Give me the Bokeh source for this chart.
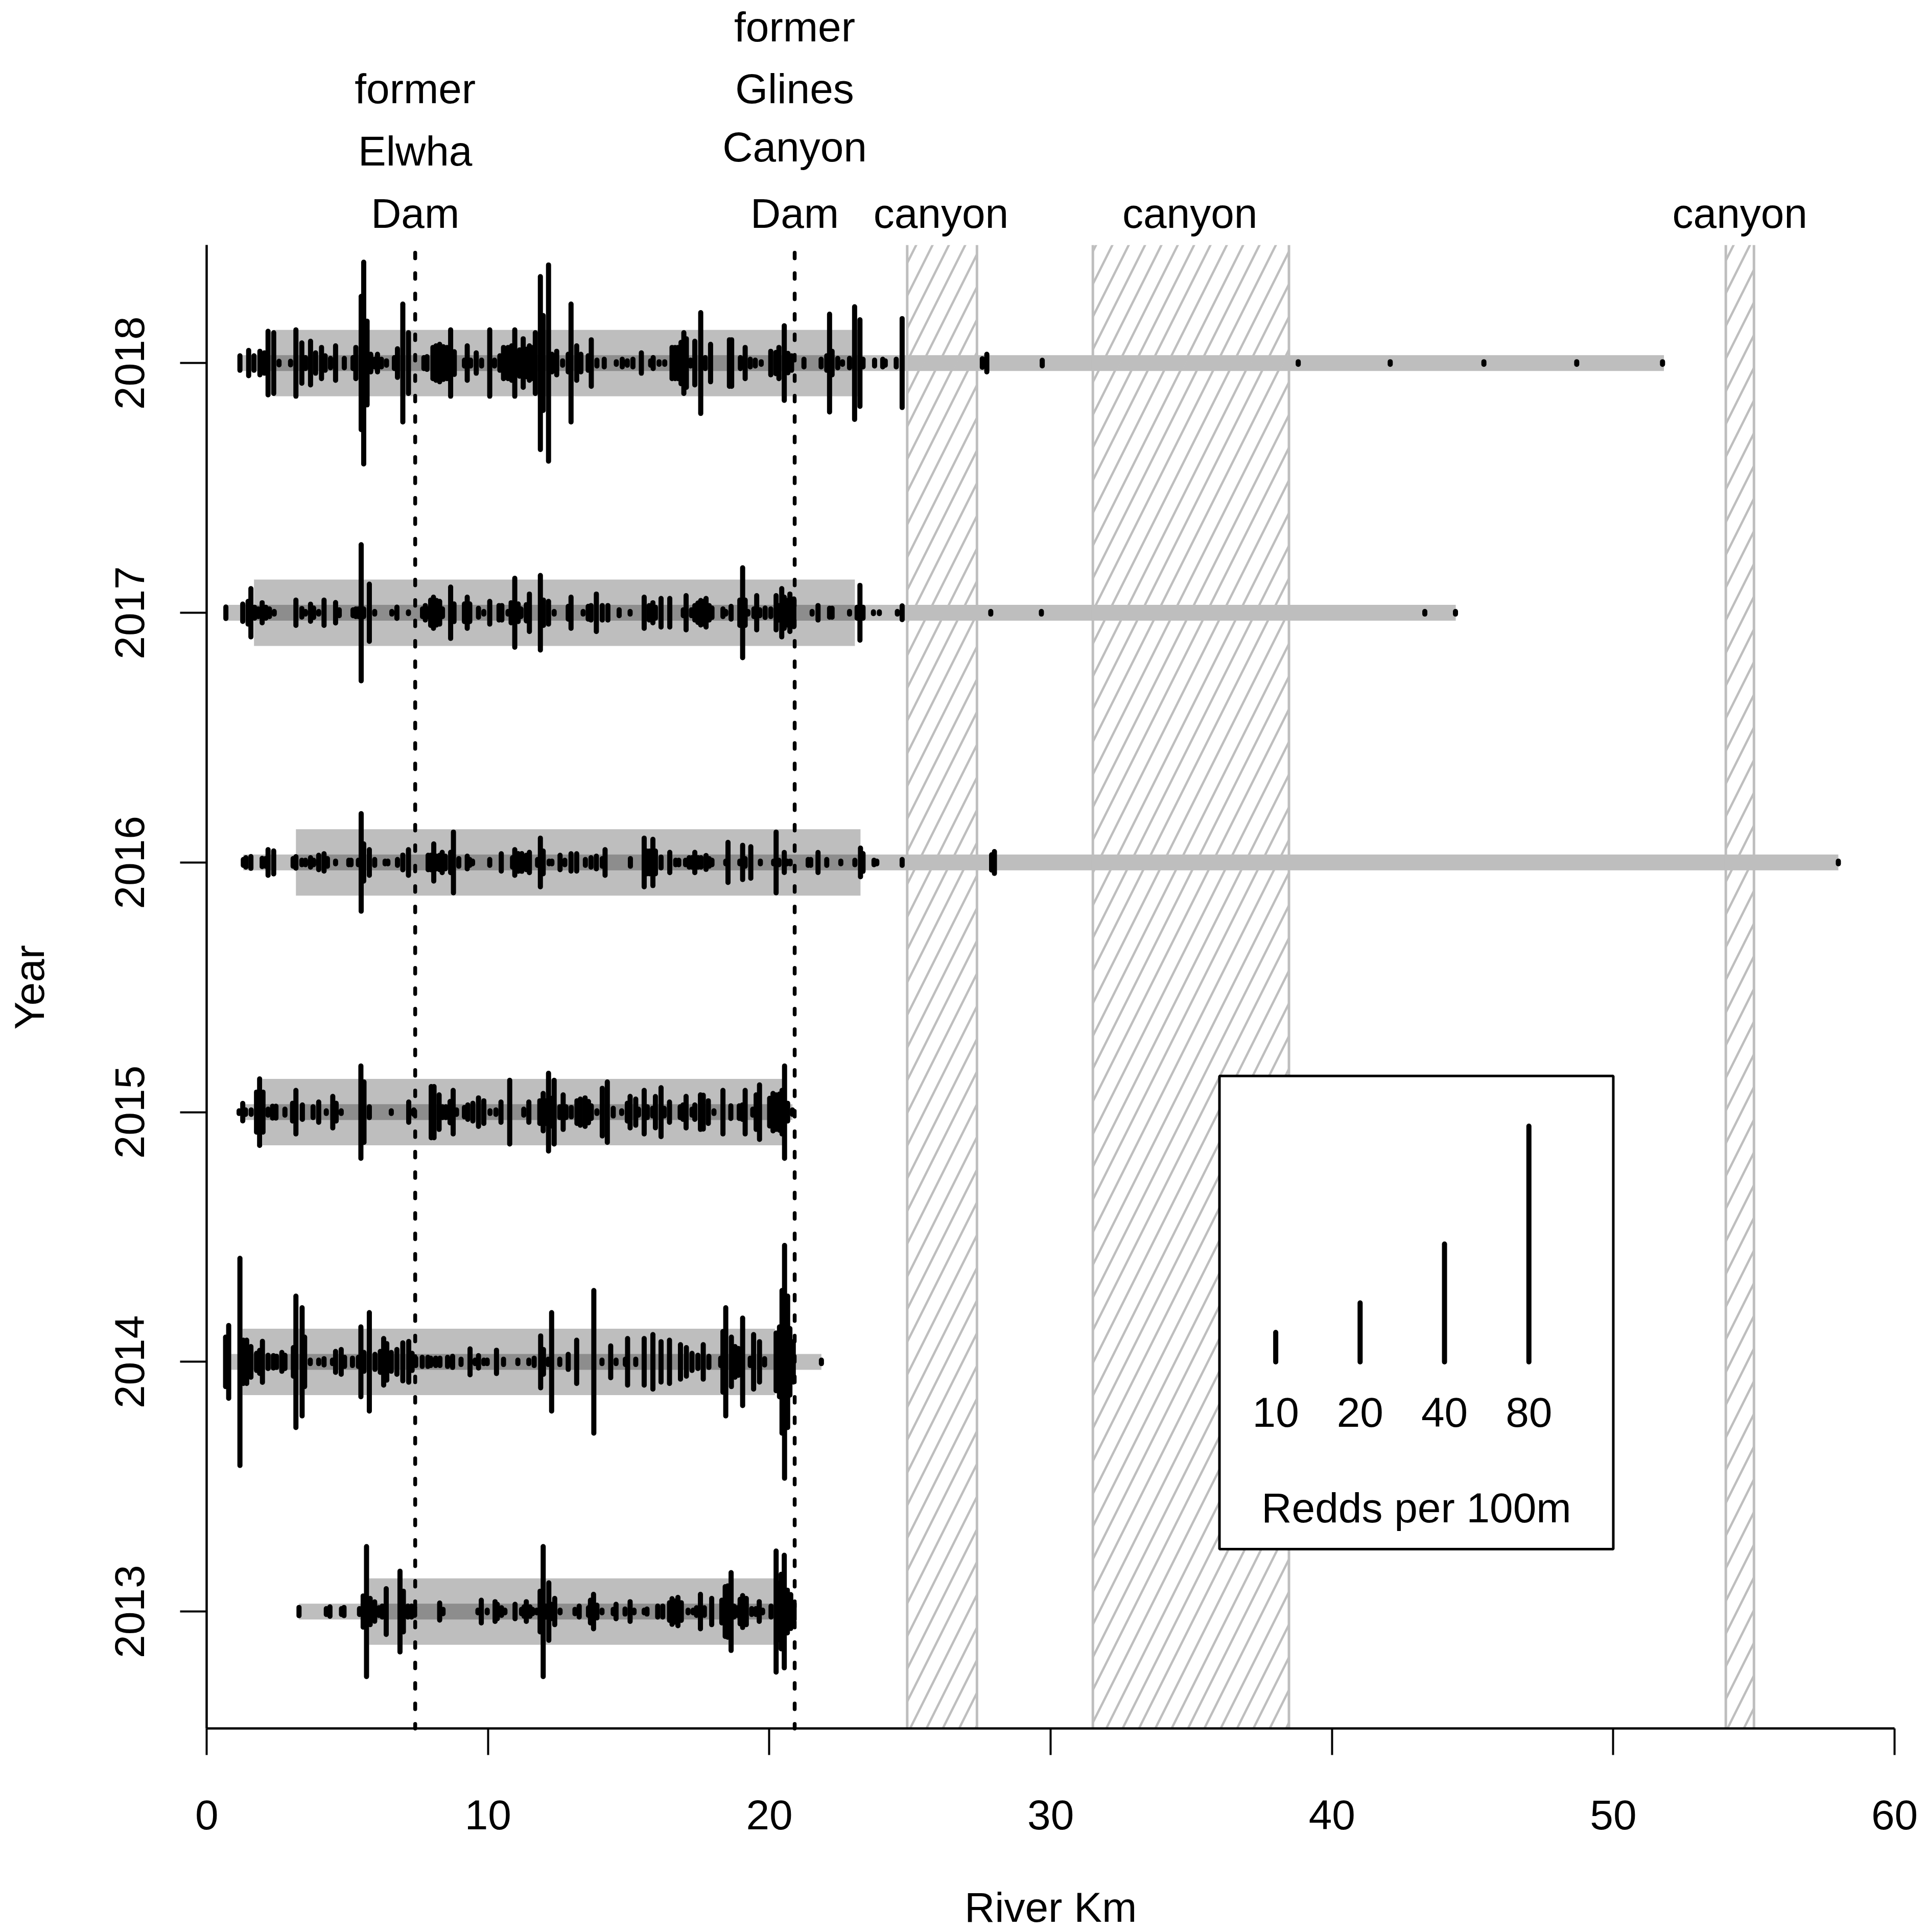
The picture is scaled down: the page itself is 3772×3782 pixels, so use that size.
import math

import numpy as np
from bokeh.core.properties import value
from bokeh.embed import file_html
from bokeh.models import ColumnDataSource, FixedTicker, Range1d
from bokeh.plotting import figure
from bokeh.resources import INLINE

years = [2013, 2014, 2015, 2016, 2017, 2018]

# redd marks by year (km, redds per 100 m incl. round cap)
km_2013 = [3.28, 4.25, 4.38, 4.79, 4.88, 5.43, 5.56, 5.68, 5.81, 5.97,
           6.12, 6.24, 6.38, 6.87, 6.99, 7.15, 7.28, 7.39, 8.28, 8.40,
           9.64, 9.76, 9.97, 10.25, 10.33, 10.48, 10.60, 10.96, 11.19, 11.28,
           11.36, 11.49, 11.58, 11.73, 11.85, 11.96, 12.06, 12.16, 12.24, 12.37,
           12.56, 13.09, 13.24, 13.57, 13.64, 13.75, 13.87, 14.05, 14.45, 14.55,
           14.87, 15.05, 15.19, 15.55, 15.65, 16.03, 16.21, 16.45, 16.54, 16.63,
           16.75, 16.87, 17.11, 17.29, 17.41, 17.55, 17.69, 17.95, 18.31, 18.43,
           18.52, 18.64, 18.74, 18.85, 18.96, 19.05, 19.18, 19.37, 19.52, 19.64,
           19.76, 20.06, 20.24, 20.33, 20.42, 20.53, 20.64, 20.76, 20.88]
redds_2013 = [3.6, 2.8, 4, 2.8, 3.6, 2.8, 11.4, 44.9, 9.7, 7.4,
              3.4, 4.5, 16.3, 28.2, 14.6, 4.5, 4.5, 3.4, 6.6, 2.3,
              1.7, 8.5, 1.7, 7.5, 5.7, 3.4, 1.7, 5.7, 2.3, 4,
              7.5, 4, 2.3, 1.7, 14.6, 44.9, 4.5, 20.3, 5.7, 9.7,
              1.7, 2.3, 4.5, 3.4, 8.5, 12.5, 5.1, 1.7, 2.3, 5.7,
              2.5, 7.5, 1.7, 1.7, 2.5, 4.5, 4.5, 6.8, 9.5, 8,
              10.4, 6.8, 1.7, 1.7, 3.4, 12.5, 3.4, 9.7, 8.5, 17.7,
              18.2, 27.2, 4.5, 3.4, 9.1, 11.6, 9.7, 2.8, 2.8, 7.5,
              1.7, 4.5, 41.9, 19.9, 26.1, 39, 15.3, 12.3, 6.2]

km_2014 = [0.67, 0.78, 1.18, 1.30, 1.42, 1.57, 1.77, 1.88, 1.98, 2.18,
           2.37, 2.48, 2.67, 2.78, 3.08, 3.17, 3.39, 3.48, 3.68, 3.98,
           4.17, 4.47, 4.58, 4.78, 4.90, 5.18, 5.39, 5.48, 5.59, 5.78,
           5.98, 6.17, 6.29, 6.40, 6.56, 6.76, 6.97, 7.18, 7.30, 7.43,
           7.66, 7.86, 7.96, 8.14, 8.29, 8.56, 8.74, 9.04, 9.36, 9.54,
           9.66, 9.85, 9.97, 10.30, 10.55, 11.06, 11.45, 11.64, 11.87, 11.97,
           12.14, 12.26, 12.55, 12.85, 13.15, 13.76, 14.05, 14.36, 14.55, 14.88,
           14.96, 15.25, 15.55, 15.86, 16.15, 16.45, 16.84, 17.05, 17.25, 17.46,
           17.65, 17.85, 18.27, 18.35, 18.45, 18.65, 18.78, 18.90, 19.05, 19.32,
           19.44, 19.65, 19.83, 20.24, 20.36, 20.45, 20.54, 20.65, 20.73, 20.85,
           21.85]
redds_2014 = [17.6, 25.5, 71.1, 15.5, 15.5, 11.2, 6.6, 8.6, 14.7, 5.3,
              5, 4.6, 7.2, 5.3, 10.5, 45.4, 37.5, 17.6, 2, 2,
              2.9, 2, 7.9, 9.2, 3.9, 3.3, 3.9, 24.5, 7.2, 34.2,
              5.9, 7.9, 16.6, 13.2, 7.2, 9.2, 13.7, 14.6, 6.6, 3.3,
              3.9, 3.9, 3.3, 3.3, 3.3, 3.9, 4.6, 2.6, 9.6, 2,
              5, 2, 2, 8.7, 2.6, 2, 2, 3.3, 18.4, 9.2,
              2.6, 34.2, 2.6, 5.9, 15.5, 49.2, 2, 11.6, 2, 2.6,
              16.6, 2.6, 16.6, 19.3, 14.5, 15.5, 12.5, 10.5, 6.6, 5.3,
              12.5, 4.6, 3.3, 21.4, 37.5, 17.6, 11.2, 9.9, 30.5, 3.3,
              19.3, 14.5, 2.9, 20.4, 24.5, 49.2, 79.8, 45.4, 23.4, 14.5,
              2]

km_2015 = [1.15, 1.28, 1.38, 1.58, 1.77, 1.88, 2.00, 2.18, 2.34, 2.46,
           2.78, 3.05, 3.17, 3.40, 3.78, 3.98, 4.25, 4.48, 4.60, 4.78,
           5.48, 5.59, 5.78, 6.56, 7.18, 7.36, 7.98, 8.08, 8.26, 8.38,
           8.50, 8.65, 8.76, 8.88, 9.16, 9.28, 9.46, 9.66, 9.85, 10.07,
           10.28, 10.46, 10.77, 11.27, 11.45, 11.84, 11.96, 12.05, 12.15, 12.26,
           12.35, 12.55, 12.67, 12.77, 12.96, 13.16, 13.28, 13.45, 13.57, 13.67,
           13.87, 14.06, 14.24, 14.45, 14.75, 14.95, 15.05, 15.25, 15.35, 15.55,
           15.66, 15.85, 15.95, 16.15, 16.26, 16.45, 16.83, 16.93, 17.04, 17.25,
           17.35, 17.55, 17.65, 17.83, 18.03, 18.35, 18.63, 18.93, 19.04, 19.14,
           19.41, 19.53, 19.65, 20.01, 20.13, 20.24, 20.36, 20.45, 20.54, 20.65,
           20.82]
redds_2015 = [1.7, 6.7, 2.3, 2.3, 14.4, 23.4, 14.4, 2.8, 4.8, 4.8,
              2.8, 6.8, 15.6, 5.7, 4.5, 7.7, 1.7, 11.5, 6.8, 1.7,
              32.1, 21.3, 4.5, 1.7, 7.7, 2.3, 18.2, 18.2, 12.5, 4.5,
              4.5, 8, 15.6, 2.3, 4, 5.7, 6.8, 10.5, 8.5, 1.7,
              2.3, 7.7, 22.4, 2.8, 7.7, 8.5, 13.5, 8.5, 27.2, 10.2,
              22.4, 4.5, 12.5, 4.5, 4, 8.5, 9.7, 10.5, 8, 5.1,
              1.7, 17, 21.3, 3.4, 1.7, 6.8, 11.5, 9.7, 2.8, 15.6,
              4.5, 3.4, 11.4, 17.4, 3.4, 7.7, 4.5, 5.7, 11.5, 2.8,
              5.7, 12.5, 12.3, 8.5, 1.7, 15.6, 5.1, 5.1, 5.7, 15.6,
              2.8, 12.5, 19.3, 10.2, 13.5, 12.5, 13.1, 15.6, 32.1, 6.8,
              2.3]

km_2016 = [1.30, 1.39, 1.57, 1.97, 2.09, 2.18, 2.38, 3.07, 3.17, 3.38,
           3.51, 3.69, 3.80, 3.98, 4.17, 4.29, 4.58, 5.05, 5.13, 5.39,
           5.49, 5.58, 5.78, 5.97, 6.34, 6.44, 6.78, 6.97, 7.17, 7.87,
           7.96, 8.07, 8.17, 8.28, 8.37, 8.48, 8.67, 8.77, 8.96, 9.26,
           9.35, 9.45, 10.06, 10.47, 10.87, 10.95, 11.07, 11.20, 11.36, 11.47,
           11.76, 11.86, 11.96, 12.17, 12.27, 12.56, 12.73, 12.95, 13.15, 13.46,
           13.66, 13.85, 14.06, 14.16, 15.06, 15.55, 15.65, 15.74, 15.86, 15.95,
           16.15, 16.46, 16.67, 16.78, 17.02, 17.15, 17.25, 17.35, 17.47, 17.57,
           17.75, 17.86, 17.96, 18.45, 18.53, 18.95, 19.05, 19.14, 19.34, 19.68,
           20.15, 20.24, 20.34, 20.53, 20.63, 20.74, 21.38, 21.47, 21.73, 22.04,
           22.54, 23.04, 23.24, 23.33, 23.72, 23.82, 24.72, 27.90, 28.00, 58.00]
redds_2016 = [2.8, 4, 4.8, 3.6, 3.4, 9.5, 8.6, 3.4, 4.7, 2.3,
              2.3, 4, 2.3, 5.7, 6.7, 3.4, 1.7, 2.3, 2.3, 2.3,
              33.9, 13.4, 9.5, 2.8, 1.7, 1.7, 2.8, 5.8, 9.5, 5.7,
              5.7, 13.4, 5.1, 5.7, 7.7, 5.1, 7.7, 21.4, 3.4, 5.1,
              2.8, 1.7, 2.8, 6.7, 4, 9.5, 6.8, 6.8, 5.7, 7.7,
              2.8, 17.3, 8.5, 1.7, 1.7, 5.7, 2.3, 6.7, 6.7, 2.8,
              4, 5.1, 3.4, 9.5, 3.4, 17.3, 8.5, 8.5, 16.5, 8.5,
              4.5, 7.7, 2.3, 2.3, 2.3, 4, 4, 7.7, 4, 4,
              5.5, 3.4, 2.3, 1.7, 14.4, 1.7, 12.4, 3.4, 11.5, 1.7,
              1.7, 21.4, 2.3, 7.6, 1.7, 1.7, 2.8, 2.8, 7.6, 2.8,
              1.7, 2.3, 10.5, 6.8, 2.3, 1.7, 2.8, 6, 8.2, 1.7]

km_2017 = [0.68, 1.28, 1.47, 1.57, 1.70, 1.83, 1.97, 2.10, 2.23, 2.40,
           3.17, 3.38, 3.51, 3.69, 3.80, 3.98, 4.17, 4.58, 4.71, 5.20,
           5.30, 5.39, 5.49, 5.58, 5.78, 5.97, 6.58, 6.76, 7.17, 7.67,
           7.77, 7.87, 7.96, 8.06, 8.17, 8.28, 8.38, 8.67, 8.79, 9.16,
           9.26, 9.35, 9.66, 9.85, 10.06, 10.39, 10.49, 10.71, 10.82, 10.95,
           11.07, 11.17, 11.36, 11.47, 11.86, 11.97, 12.15, 12.35, 12.85, 12.95,
           13.38, 13.56, 13.66, 13.85, 14.06, 14.26, 14.66, 15.05, 15.55, 15.73,
           15.86, 15.95, 16.15, 16.46, 16.94, 17.04, 17.23, 17.35, 17.46, 17.56,
           17.65, 17.75, 17.86, 17.96, 18.35, 18.45, 18.64, 18.95, 19.05, 19.14,
           19.24, 19.45, 19.55, 19.66, 19.85, 20.05, 20.24, 20.34, 20.44, 20.53,
           20.63, 20.73, 20.87, 21.52, 21.73, 22.14, 22.23, 22.85, 23.12, 23.22,
           23.33, 23.70, 23.91, 24.55, 24.72, 27.87, 29.67, 43.30, 44.39]
redds_2017 = [4.7, 6.7, 8.5, 17.2, 4.5, 3.4, 7.6, 4.5, 3.4, 1.7,
              9.4, 3.7, 1.7, 6.6, 4, 1.7, 9.4, 7.7, 2.8, 2.8,
              3.4, 3.4, 47, 3.4, 20.2, 1.7, 1.7, 4.6, 1.4, 3.4,
              5.7, 3.4, 9.4, 11.4, 9.1, 8.5, 3.4, 18.2, 6.8, 6.8,
              11.4, 6.8, 3.8, 1.7, 8.5, 5.7, 5.7, 1.7, 7.6, 24.2,
              6.8, 3.4, 6.3, 13.5, 26.1, 9.4, 8.5, 1.7, 5.1, 11.4,
              1.7, 5.1, 5.7, 13.5, 5.7, 5.7, 2.8, 1.7, 11.4, 5.7,
              7.6, 4.5, 10.5, 10.5, 2.8, 12.4, 2.8, 5.7, 7.4, 9.1,
              8.5, 10.5, 5.7, 4, 3.4, 1.7, 5.1, 9.4, 31.3, 9.4,
              1.7, 3.4, 12.4, 2.8, 4, 3.4, 12.4, 5.7, 17.2, 11.4,
              9.1, 13.5, 10.2, 1.7, 5.7, 3.8, 3.8, 1.7, 4.5, 19.4,
              4.5, 1.4, 1.4, 1.7, 5.5, 1.7, 1.7, 1.7, 1.7]

km_2018 = [1.18, 1.49, 1.68, 1.89, 2.05, 2.18, 2.38, 2.57, 2.98, 3.17,
           3.38, 3.51, 3.69, 3.87, 4.08, 4.21, 4.40, 4.58, 4.89, 5.20,
           5.30, 5.49, 5.58, 5.70, 5.83, 5.97, 6.07, 6.21, 6.39, 6.67,
           6.78, 6.97, 7.17, 7.72, 7.83, 8.04, 8.15, 8.28, 8.41, 8.54,
           8.67, 8.80, 9.16, 9.26, 9.38, 9.58, 9.77, 10.06, 10.23, 10.42,
           10.55, 10.71, 10.84, 10.95, 11.12, 11.25, 11.38, 11.47, 11.60, 11.68,
           11.86, 11.96, 12.15, 12.27, 12.44, 12.65, 12.85, 12.95, 13.15, 13.30,
           13.56, 13.67, 13.87, 14.13, 14.56, 14.77, 14.95, 15.15, 15.45, 15.78,
           15.87, 16.08, 16.28, 16.54, 16.65, 16.75, 16.86, 16.96, 17.05, 17.20,
           17.35, 17.56, 17.72, 17.91, 18.58, 18.66, 18.97, 19.14, 19.32, 19.50,
           19.71, 20.05, 20.23, 20.34, 20.53, 20.66, 20.79, 21.23, 21.84, 22.04,
           22.14, 22.23, 22.43, 22.60, 22.85, 23.03, 23.22, 23.33, 23.74, 24.03,
           24.12, 24.51, 24.72, 27.57, 27.73, 29.70, 38.80, 42.07, 45.40, 48.70,
           51.75]
redds_2018 = [5.7, 9.4, 5.7, 8.8, 7.7, 22.4, 21.4, 2, 2, 23.3,
              14.5, 4.5, 15.6, 7.7, 11.4, 5.7, 4, 12.5, 4, 4.5,
              11.4, 46, 69.3, 29.2, 6.8, 3.4, 6.8, 3.4, 2.3, 4.5,
              10.5, 40.8, 21.4, 4.5, 5.1, 11.4, 12.5, 13.5, 11.9, 11.4,
              23.3, 8.5, 2.8, 12.5, 2.8, 7.7, 2.8, 23.3, 2.8, 5.7,
              11.4, 11.4, 12.5, 23.3, 9.7, 17.3, 10.2, 12.5, 11.4, 21.4,
              59.5, 33, 67.4, 6.8, 8.8, 2.3, 6.8, 40.8, 12.5, 6.8,
              5.7, 16.6, 2.8, 3.4, 1.7, 3.4, 2.3, 3.4, 7.7, 2.3,
              4.5, 1.7, 1.7, 11.4, 11.4, 11.4, 14.8, 21.4, 17.3, 2.8,
              15.6, 35, 4.5, 13.5, 16.6, 16.6, 4.5, 11.4, 3.4, 2.8,
              1.7, 8.8, 8, 11.4, 26.1, 7.4, 5.7, 3.4, 3.4, 5.7,
              34, 8.8, 4, 1.7, 4, 39, 30.2, 3.4, 2.8, 3.4,
              2.3, 3.4, 31, 3.7, 6.8, 2.7, 1.7, 1.7, 1.7, 1.7,
              1.7]

# survey extent (thin band) and bulk of the redds (wide band), km
thin_start = [3.28, 0.87, 1.35, 1.30, 0.65, 1.20]
thin_end = [20.80, 21.85, 20.82, 58.00, 44.40, 51.80]
wide_start = [5.77, 1.27, 1.98, 3.17, 1.68, 2.38]
wide_end = [20.30, 20.20, 20.46, 23.24, 23.04, 23.20]

dam_km = [7.41, 20.9]
canyon_left = [24.9, 31.5, 54.0]
canyon_right = [27.38, 38.47, 55.0]

legend_km = [38, 41, 44, 47]
legend_redds = [10, 20, 40, 80]
legend_labels = ["10", "20", "40", "80"]

x_ticks = [0, 10, 20, 30, 40, 50, 60]

note_text = ["former", "Elwha", "Dam", "former", "Glines", "Canyon", "Dam", "canyon", "canyon", "canyon"]
note_km = [7.41, 7.41, 7.41, 20.9, 20.9, 20.9, 20.9, 26.1, 34.95, 54.5]
note_year = [2019.04, 2018.79, 2018.54, 2019.287, 2019.04, 2018.806, 2018.54, 2018.54, 2018.54, 2018.54]

FONT = "Liberation Sans"
FONT_SIZE = "82px"
GRAY = "#BEBEBE"
Y_MIN, Y_MAX = 2012.5316, 2018.4726
REDD_YR = 0.0118  # years of axis per redd
CAP = 0.8  # what the round line cap adds to a reading, in redds
THIN_HALF, WIDE_HALF = 0.0317, 0.133
TEXT_NUDGE = 0.059  # alphabetic text lands lower than asked, in years

marks = {
    2013: (km_2013, redds_2013),
    2014: (km_2014, redds_2014),
    2015: (km_2015, redds_2015),
    2016: (km_2016, redds_2016),
    2017: (km_2017, redds_2017),
    2018: (km_2018, redds_2018),
}

# the frame fills the page, so the notes above the plot are not clipped;
# the axes sit inside it at fixed places and stop at their bounds
p = figure(
    width=3756,
    height=3774,
    x_range=Range1d(-7.34, 60.87),
    y_range=Range1d(2011.732, 2019.453),
    output_backend="svg",
    toolbar_location=None,
    min_border=0,
    background_fill_color="white",
    border_fill_color="white",
    outline_line_color=None,
)
p.grid.visible = False

# bands: translucent black, so they darken where they overlap
yr = np.array(years, dtype=float)
p.quad(left=wide_start, right=wide_end, bottom=yr - WIDE_HALF, top=yr + WIDE_HALF,
       fill_color="black", fill_alpha=0.255, line_color=None)
p.quad(left=thin_start, right=thin_end, bottom=yr - THIN_HALF, top=yr + THIN_HALF,
       fill_color="black", fill_alpha=0.255, line_color=None)

# canyons: hatch plus the two sides, no top or bottom edge
p.quad(left=canyon_left, right=canyon_right, bottom=Y_MIN, top=Y_MAX,
       fill_color=None, line_color=None,
       hatch_pattern="right_diagonal_line", hatch_color=GRAY, hatch_scale=64, hatch_weight=4.5)
canyon_sides = canyon_left + canyon_right
p.segment(x0=canyon_sides, x1=canyon_sides, y0=[Y_MIN] * 6, y1=[Y_MAX] * 6,
          line_color=GRAY, line_width=5)

p.segment(x0=dam_km, y0=[Y_MAX] * len(dam_km), x1=dam_km, y1=[Y_MIN] * len(dam_km),
          line_color="black", line_width=7.5, line_dash="11 29", line_dash_offset=25, line_cap="round")

x0, y0, y1 = [], [], []
for year, (kms, redds) in marks.items():
    half = np.maximum(np.array(redds) - CAP, 0.2) * REDD_YR / 2
    x0.extend(kms)
    y0.extend(year - half)
    y1.extend(year + half)
source = ColumnDataSource(data={"x": x0, "y0": y0, "y1": y1})
p.segment(x0="x", y0="y0", x1="x", y1="y1", source=source,
          line_color="black", line_width=10, line_cap="round")

# legend box
p.quad(left=[36], right=[50], bottom=[2013.25], top=[2015.145],
       fill_color="white", line_color="black", line_width=5)
legend_base = 2014.0
p.segment(x0=legend_km, x1=legend_km, y0=[legend_base] * 4,
          y1=[legend_base + r * REDD_YR for r in legend_redds],
          line_color="black", line_width=10, line_cap="round")


def add_text(x, y, text, angle=0.0):
    p.text(x=x, y=y, text=text, angle=angle, text_font=value(FONT), text_font_size=value(FONT_SIZE),
           text_color="black", text_align="center", text_baseline="alphabetic")


add_text(legend_km, [2013.74 + TEXT_NUDGE] * 4, legend_labels)
add_text([43], [2013.356 + TEXT_NUDGE], ["Redds per 100m"])
add_text(note_km, [y + TEXT_NUDGE for y in note_year], note_text)
add_text([30], [2011.756 + TEXT_NUDGE], ["River Km"])
add_text([-6.3], [2015.5], ["Year"], angle=math.pi / 2)

p.xaxis.ticker = FixedTicker(ticks=x_ticks)
p.yaxis.ticker = FixedTicker(ticks=years)
p.xaxis.bounds = (0, 60)
p.yaxis.bounds = (Y_MIN, Y_MAX)
p.xaxis.fixed_location = Y_MIN
p.yaxis.fixed_location = 0
p.yaxis.major_label_orientation = "vertical"
for axis in (p.xaxis[0], p.yaxis[0]):
    axis.axis_line_color = "black"
    axis.axis_line_width = 4.5
    axis.major_tick_line_color = "black"
    axis.major_tick_line_width = 4
    axis.major_tick_in = 0
    axis.major_tick_out = 52
    axis.minor_tick_line_color = None
    axis.major_label_text_font = FONT
    axis.major_label_text_font_size = FONT_SIZE
    axis.major_label_text_color = "black"
p.xaxis[0].major_label_standoff = 88
p.yaxis[0].major_label_standoff = 71

open("out.html", "w").write(file_html(p, INLINE))
